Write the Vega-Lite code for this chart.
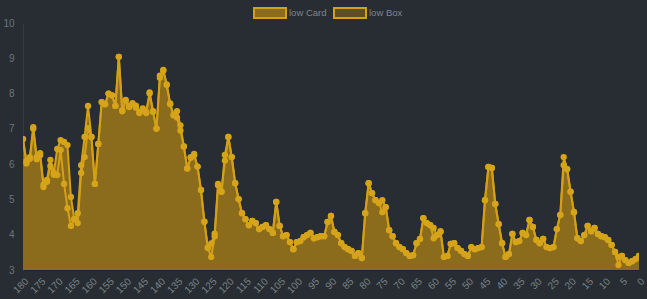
{
  "$schema": "https://vega.github.io/schema/vega-lite/v6.json",
  "width": 616,
  "height": 247,
  "autosize": {"type": "none"},
  "padding": {"left": 23, "top": 23, "right": 8, "bottom": 29},
  "background": "#272d32",
  "config": {"view": {"stroke": null}, "font": "Liberation Sans"},
  "data": {"values": [
    {"x":180,"card":6.71,"box":6.71},{"x":179,"card":6.09,"box":6.02},{"x":178,"card":6.20,"box":6.15},{"x":177,"card":7.05,"box":7.00},
    {"x":176,"card":6.20,"box":6.14},{"x":175,"card":6.31,"box":6.25},{"x":174,"card":5.42,"box":5.35},{"x":173,"card":5.55,"box":5.50},
    {"x":172,"card":6.12,"box":5.95},{"x":171,"card":5.75,"box":5.70},{"x":170,"card":6.43,"box":5.69},{"x":169,"card":6.68,"box":6.40},
    {"x":168,"card":6.63,"box":5.44},{"x":167,"card":6.54,"box":4.75},{"x":166,"card":5.07,"box":4.25},{"x":165,"card":4.44,"box":4.44},
    {"x":164,"card":4.61,"box":4.33},{"x":163,"card":5.97,"box":5.75},{"x":162,"card":6.77,"box":6.20},{"x":161,"card":7.65,"box":7.02},
    {"x":160,"card":6.77,"box":6.77},{"x":159,"card":5.44,"box":5.44},{"x":158,"card":6.57,"box":6.57},{"x":157,"card":7.76,"box":7.76},
    {"x":156,"card":7.70,"box":7.70},{"x":155,"card":8.00,"box":8.00},{"x":154,"card":7.95,"box":7.95},{"x":153,"card":7.65,"box":7.65},
    {"x":152,"card":9.04,"box":9.04},{"x":151,"card":7.53,"box":7.50},{"x":150,"card":7.82,"box":7.80},{"x":149,"card":7.65,"box":7.62},
    {"x":148,"card":7.73,"box":7.70},{"x":147,"card":7.66,"box":7.60},{"x":146,"card":7.47,"box":7.45},{"x":145,"card":7.58,"box":7.55},
    {"x":144,"card":7.47,"box":7.45},{"x":143,"card":8.03,"box":8.00},{"x":142,"card":7.50,"box":7.48},{"x":141,"card":7.01,"box":7.00},
    {"x":140,"card":8.51,"box":8.45},{"x":139,"card":8.67,"box":8.65},{"x":138,"card":8.26,"box":8.24},{"x":137,"card":7.72,"box":7.70},
    {"x":136,"card":7.40,"box":7.38},{"x":135,"card":7.50,"box":7.32},{"x":134,"card":7.10,"box":6.95},{"x":133,"card":6.50,"box":6.50},
    {"x":132,"card":5.88,"box":5.88},{"x":131,"card":6.20,"box":6.18},{"x":130,"card":6.29,"box":6.25},{"x":129,"card":5.93,"box":5.93},
    {"x":128,"card":5.27,"box":5.27},{"x":127,"card":4.37,"box":4.37},{"x":126,"card":3.63,"box":3.62},{"x":125,"card":3.75,"box":3.37},
    {"x":124,"card":4.03,"box":3.95},{"x":123,"card":5.44,"box":5.40},{"x":122,"card":5.22,"box":5.22},{"x":121,"card":6.26,"box":6.10},
    {"x":120,"card":6.77,"box":6.77},{"x":119,"card":6.20,"box":6.20},{"x":118,"card":5.46,"box":5.46},{"x":117,"card":5.01,"box":5.01},
    {"x":116,"card":4.61,"box":4.61},{"x":115,"card":4.44,"box":4.44},{"x":114,"card":4.27,"box":4.27},{"x":113,"card":4.39,"box":4.39},
    {"x":112,"card":4.33,"box":4.33},{"x":111,"card":4.16,"box":4.16},{"x":110,"card":4.22,"box":4.22},{"x":109,"card":4.27,"box":4.27},
    {"x":108,"card":4.16,"box":4.16},{"x":107,"card":4.05,"box":4.05},{"x":106,"card":4.93,"box":4.93},{"x":105,"card":4.25,"box":4.25},
    {"x":104,"card":3.96,"box":3.96},{"x":103,"card":3.99,"box":3.99},{"x":102,"card":3.79,"box":3.79},{"x":101,"card":3.59,"box":3.59},
    {"x":100,"card":3.79,"box":3.79},{"x":99,"card":3.82,"box":3.82},{"x":98,"card":3.93,"box":3.93},{"x":97,"card":3.99,"box":3.99},
    {"x":96,"card":4.05,"box":4.05},{"x":95,"card":3.90,"box":3.90},{"x":94,"card":3.93,"box":3.93},{"x":93,"card":3.96,"box":3.96},
    {"x":92,"card":3.96,"box":3.96},{"x":91,"card":4.36,"box":4.36},{"x":90,"card":4.53,"box":4.53},{"x":89,"card":4.08,"box":4.08},
    {"x":88,"card":3.99,"box":3.99},{"x":87,"card":3.76,"box":3.76},{"x":86,"card":3.65,"box":3.65},{"x":85,"card":3.59,"box":3.59},
    {"x":84,"card":3.54,"box":3.54},{"x":83,"card":3.40,"box":3.40},{"x":82,"card":3.48,"box":3.48},{"x":81,"card":3.34,"box":3.34},
    {"x":80,"card":4.61,"box":4.61},{"x":79,"card":5.46,"box":5.46},{"x":78,"card":5.18,"box":5.18},{"x":77,"card":4.98,"box":4.98},
    {"x":76,"card":4.90,"box":4.90},{"x":75,"card":4.98,"box":4.64},{"x":74,"card":4.78,"box":4.78},{"x":73,"card":4.13,"box":4.13},
    {"x":72,"card":3.96,"box":3.96},{"x":71,"card":3.76,"box":3.76},{"x":70,"card":3.65,"box":3.65},{"x":69,"card":3.59,"box":3.59},
    {"x":68,"card":3.48,"box":3.48},{"x":67,"card":3.40,"box":3.40},{"x":66,"card":3.42,"box":3.42},{"x":65,"card":3.76,"box":3.76},
    {"x":64,"card":3.88,"box":3.88},{"x":63,"card":4.47,"box":4.47},{"x":62,"card":4.33,"box":4.33},{"x":61,"card":4.27,"box":4.27},
    {"x":60,"card":4.19,"box":3.90},{"x":59,"card":3.99,"box":3.99},{"x":58,"card":4.10,"box":4.08},{"x":57,"card":3.37,"box":3.37},
    {"x":56,"card":3.40,"box":3.40},{"x":55,"card":3.74,"box":3.74},{"x":54,"card":3.76,"box":3.76},{"x":53,"card":3.62,"box":3.62},
    {"x":52,"card":3.54,"box":3.54},{"x":51,"card":3.45,"box":3.45},{"x":50,"card":3.40,"box":3.40},{"x":49,"card":3.65,"box":3.65},
    {"x":48,"card":3.59,"box":3.59},{"x":47,"card":3.62,"box":3.62},{"x":46,"card":3.65,"box":3.65},{"x":45,"card":4.98,"box":4.98},
    {"x":44,"card":5.92,"box":5.92},{"x":43,"card":5.89,"box":5.89},{"x":42,"card":4.87,"box":4.87},{"x":41,"card":4.30,"box":4.30},
    {"x":40,"card":3.76,"box":3.76},{"x":39,"card":3.37,"box":3.37},{"x":38,"card":3.45,"box":3.45},{"x":37,"card":4.02,"box":4.02},
    {"x":36,"card":3.79,"box":3.79},{"x":35,"card":3.82,"box":3.82},{"x":34,"card":4.05,"box":4.05},{"x":33,"card":3.99,"box":3.99},
    {"x":32,"card":4.42,"box":4.42},{"x":31,"card":4.22,"box":4.22},{"x":30,"card":3.85,"box":3.85},{"x":29,"card":3.76,"box":3.76},
    {"x":28,"card":3.88,"box":3.88},{"x":27,"card":3.65,"box":3.65},{"x":26,"card":3.62,"box":3.62},{"x":25,"card":3.65,"box":3.65},
    {"x":24,"card":4.16,"box":4.16},{"x":23,"card":4.56,"box":4.56},{"x":22,"card":6.20,"box":5.97},{"x":21,"card":5.86,"box":5.86},
    {"x":20,"card":5.22,"box":5.22},{"x":19,"card":4.64,"box":4.64},{"x":18,"card":3.90,"box":3.90},{"x":17,"card":3.82,"box":3.82},
    {"x":16,"card":3.99,"box":3.99},{"x":15,"card":4.25,"box":4.25},{"x":14,"card":4.10,"box":4.10},{"x":13,"card":4.19,"box":4.19},
    {"x":12,"card":4.02,"box":4.02},{"x":11,"card":3.96,"box":3.96},{"x":10,"card":3.93,"box":3.93},{"x":9,"card":3.85,"box":3.85},
    {"x":8,"card":3.71,"box":3.71},{"x":7,"card":3.51,"box":3.51},{"x":6,"card":3.37,"box":3.14},{"x":5,"card":3.40,"box":3.40},
    {"x":4,"card":3.28,"box":3.28},{"x":3,"card":3.20,"box":3.20},{"x":2,"card":3.25,"box":3.25},{"x":1,"card":3.31,"box":3.31},
    {"x":0,"card":3.40,"box":3.40}
  ]},
  "transform": [{"fold": ["card", "box"], "as": ["series", "value"]}],
  "encoding": {
    "x": {
      "field": "x", "type": "quantitative",
      "scale": {"domain": [180, 0], "nice": false, "zero": false},
      "axis": {
        "title": null, "grid": false, "ticks": false,
        "values": [180,175,170,165,160,155,150,145,140,135,130,125,120,115,110,105,100,95,90,85,80,75,70,65,60,55,50,45,40,35,30,25,20,15,10,5,0],
        "labelAngle": -45, "labelFontSize": 10, "labelColor": "#7b8186", "labelPadding": 6,
        "domainColor": "#1f2428", "domainWidth": 1, "labelOverlap": false
      }
    },
    "y": {
      "field": "value", "type": "quantitative",
      "scale": {"domain": [3, 10], "nice": false, "zero": false},
      "axis": {
        "title": null, "grid": false, "ticks": false,
        "values": [3,4,5,6,7,8,9,10],
        "labelFontSize": 10, "labelColor": "#6d7479", "labelPadding": 9,
        "domainColor": "#343b40"
      }
    }
  },
  "layer": [
    {
      "transform": [{"filter": "datum.series == 'card'"}],
      "mark": {"type": "area", "opacity": 1, "clip": true},
      "encoding": {
        "y2": {"datum": 3},
        "color": {
          "field": "series", "type": "nominal",
          "scale": {"domain": ["card", "box"], "range": ["#8a6c1c", "#5d4f20"]},
          "legend": {
            "title": null, "orient": "none", "legendX": 230, "legendY": -27,
            "direction": "horizontal",
            "symbolType": "M-1,-0.3125H1V0.3125H-1Z", "symbolSize": 1024,
            "symbolStrokeColor": "#d4a017", "symbolStrokeWidth": 2, "symbolOpacity": 1,
            "labelColor": "#7f858a", "labelFontSize": 9.5, "labelOffset": 2, "columnPadding": 3,
            "labelExpr": "datum.label == 'card' ? 'low Card' : 'low Box'"
          }
        }
      }
    },
    {
      "mark": {"type": "line", "stroke": "#d4a017", "strokeWidth": 2, "clip": true},
      "encoding": {"detail": {"field": "series"}}
    },
    {
      "mark": {"type": "point", "filled": true, "fill": "#d6a41a", "size": 40, "opacity": 1, "clip": true},
      "encoding": {"detail": {"field": "series"}}
    }
  ]
}
